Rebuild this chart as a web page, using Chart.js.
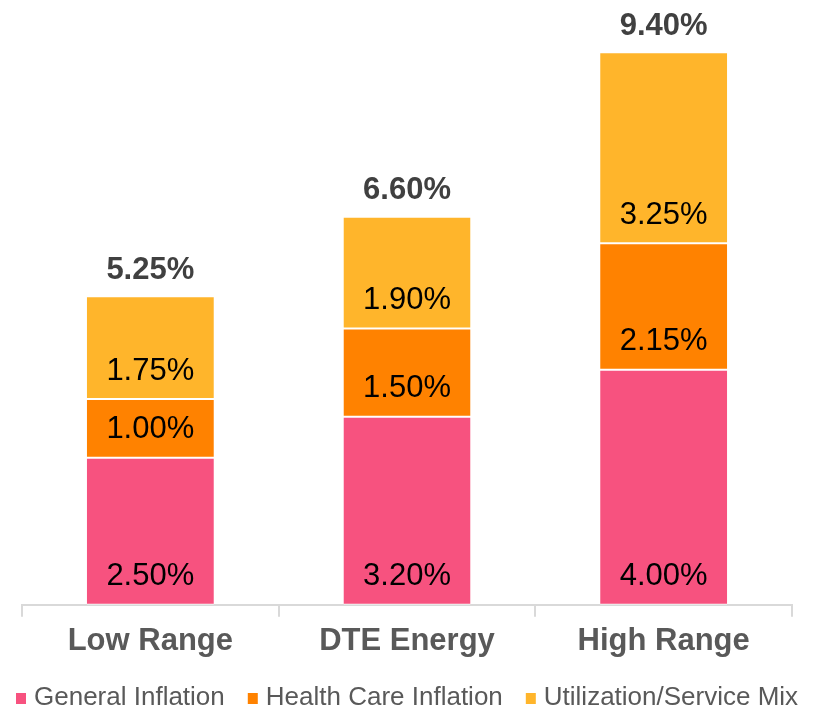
<!DOCTYPE html>
<html>
<head>
<meta charset="utf-8">
<script src="https://cdn.jsdelivr.net/npm/chart.js@4/dist/chart.umd.min.js"></script>
<style>
  html, body { margin: 0; padding: 0; background: #fff; }
  #wrap { width: 813px; height: 711px; }
</style>
</head>
<body>
<div id="wrap"><canvas id="trendChart"></canvas></div>
<script>
// categories and series (percent)
const categories = ["Low Range", "DTE Energy", "High Range"];
const generalInflation = [2.50, 3.20, 4.00];
const healthCareInflation = [1.00, 1.50, 2.15];
const utilizationMix = [1.75, 1.90, 3.25];
const totals = [5.25, 6.60, 9.40];

const FONT = "'Liberation Sans', Arial, sans-serif";

// writes each segment value near its base and the total above each stack
const stackLabels = {
  id: "stackLabels",
  afterDatasetsDraw(chart) {
    const ctx = chart.ctx;
    ctx.save();
    ctx.textAlign = "center";
    ctx.textBaseline = "middle";
    ctx.font = "31px " + FONT;
    ctx.fillStyle = "#000";
    chart.data.datasets.forEach((ds, i) => {
      chart.getDatasetMeta(i).data.forEach((bar, j) => {
        ctx.fillText(ds.data[j].toFixed(2) + "%", bar.x, bar.base - 28);
      });
    });
    const top = chart.getDatasetMeta(chart.data.datasets.length - 1).data;
    ctx.font = "bold 31px " + FONT;
    ctx.fillStyle = "#404040";
    top.forEach((bar, j) => {
      ctx.fillText(totals[j].toFixed(2) + "%", bar.x, bar.y - 26);
    });
    ctx.restore();
  }
};

// simple one-row legend along the bottom edge
const bottomLegend = {
  id: "bottomLegend",
  afterDraw(chart) {
    const ctx = chart.ctx;
    ctx.save();
    ctx.font = "26px " + FONT;
    ctx.textBaseline = "middle";
    ctx.textAlign = "left";
    const y = chart.height - 13;
    let x = 16;
    chart.data.datasets.forEach((ds) => {
      ctx.fillStyle = ds.backgroundColor;
      ctx.fillRect(x, y - 5, 10, 11);
      x += 18;
      ctx.fillStyle = "#595959";
      ctx.fillText(ds.label, x, y);
      x += ctx.measureText(ds.label).width + 23;
    });
    ctx.restore();
  }
};

const seg = (label, data, color) => ({
  label: label,
  data: data,
  backgroundColor: color,
  borderColor: "#ffffff",
  borderWidth: { top: 1, bottom: 1, left: 0, right: 0 },
  borderSkipped: false,
  barPercentage: 0.5,
  categoryPercentage: 0.99,
});

new Chart(document.getElementById("trendChart"), {
  type: "bar",
  data: {
    labels: categories,
    datasets: [
      seg("General Inflation", generalInflation, "#F7527F"),
      seg("Health Care Inflation", healthCareInflation, "#FF8200"),
      seg("Utilization/Service Mix", utilizationMix, "#FFB52B"),
    ],
  },
  options: {
    responsive: true,
    maintainAspectRatio: false,
    animation: false,
    layout: { padding: { left: 22, right: 21, top: 17, bottom: 45 } },
    plugins: {
      tooltip: { enabled: false },
      legend: { display: false },
    },
    scales: {
      x: {
        stacked: true,
        border: { color: "#D9D9D9", width: 2 },
        grid: { drawOnChartArea: false, offset: true, color: "#D9D9D9", lineWidth: 2, tickLength: 12 },
        ticks: { font: { family: FONT, size: 31, weight: "bold" }, color: "#595959", padding: 6 },
      },
      y: {
        stacked: true,
        display: false,
        min: 0,
        max: 10,
      },
    },
  },
  plugins: [stackLabels, bottomLegend],
});
</script>
</body>
</html>
